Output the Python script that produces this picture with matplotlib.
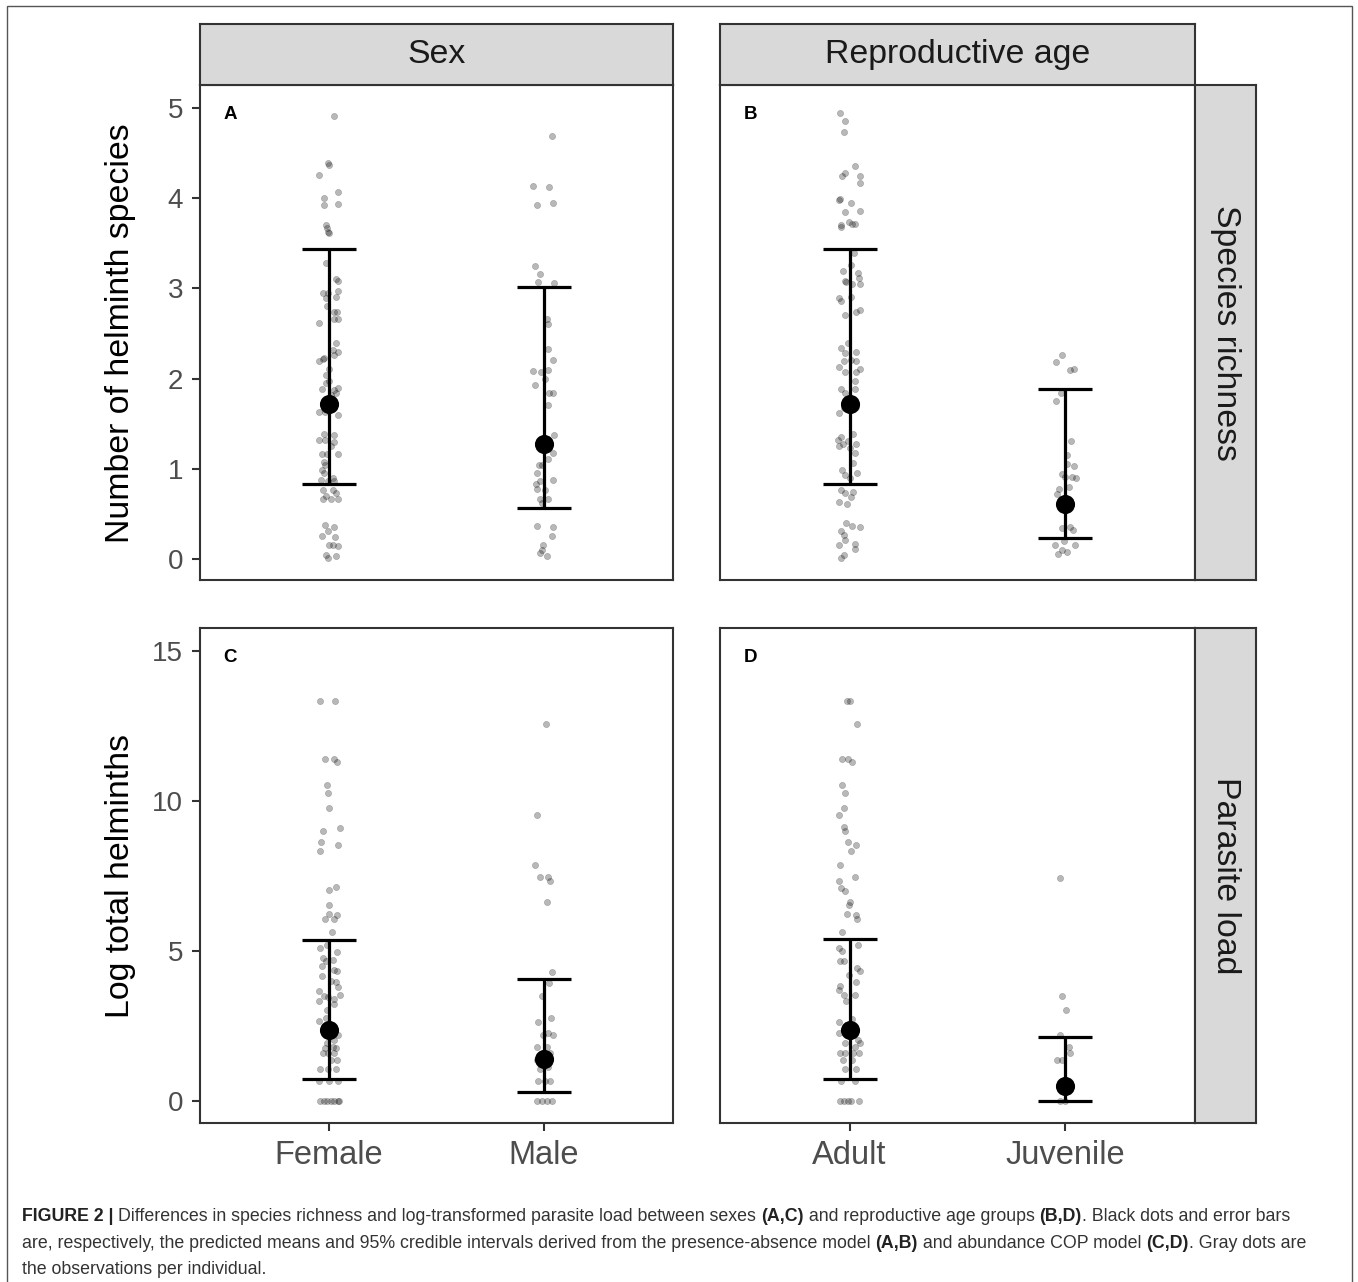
import matplotlib
matplotlib.use("Agg")
import matplotlib.pyplot as plt
from matplotlib.patches import Rectangle

plt.rcParams['font.family'] = ['Liberation Sans', 'DejaVu Sans']

# ---- data: (jitter dx, value) per individual ----
rich_female = [(0.022, 4.91), (-0.006, 4.39), (0.002, 4.37), (-0.045, 4.26), (0.040, 4.07), (-0.025, 4.00),
               (-0.025, 3.92), (0.040, 3.94), (-0.016, 3.70), (-0.009, 3.67), (-0.003, 3.63), (0.000, 3.61),
               (-0.014, 3.28), (0.033, 3.10), (0.043, 3.08), (-0.029, 2.95), (-0.006, 2.95), (0.040, 2.97),
               (-0.014, 2.89), (0.033, 2.90), (-0.009, 2.80), (0.025, 2.74), (0.037, 2.74), (-0.048, 2.62),
               (0.022, 2.66), (0.043, 2.66), (0.033, 2.40), (0.017, 2.32), (0.040, 2.30), (0.022, 2.26),
               (-0.022, 2.23), (-0.029, 2.22), (-0.045, 2.19), (0.002, 2.11), (-0.014, 2.04), (0.002, 1.97),
               (-0.014, 1.95), (-0.034, 1.88), (0.040, 1.90), (0.025, 1.87), (0.033, 1.84), (0.009, 1.82),
               (-0.045, 1.63), (-0.019, 1.63), (0.040, 1.60), (-0.025, 1.39), (0.022, 1.38), (-0.045, 1.32),
               (-0.019, 1.32), (0.025, 1.30), (0.009, 1.25), (0.040, 1.16), (-0.033, 1.16), (-0.009, 1.16),
               (-0.022, 1.08), (-0.019, 1.04), (-0.034, 0.99), (-0.025, 0.95), (0.017, 0.90), (-0.037, 0.88),
               (-0.006, 0.86), (0.025, 0.86), (-0.029, 0.77), (0.017, 0.77), (0.033, 0.73), (-0.014, 0.70),
               (0.040, 0.67), (-0.029, 0.66), (0.009, 0.66), (-0.019, 0.38), (0.025, 0.36), (-0.006, 0.31),
               (-0.034, 0.25), (0.028, 0.24), (0.002, 0.16), (0.017, 0.16), (0.040, 0.14), (-0.014, 0.04),
               (-0.003, 0.01), (0.033, 0.03)]
rich_male = [(0.036, 4.69), (-0.050, 4.13), (0.025, 4.12), (-0.031, 3.92), (0.040, 3.95), (-0.042, 3.25),
             (-0.019, 3.16), (-0.026, 3.07), (0.047, 3.06), (0.016, 2.66), (0.020, 2.61), (0.020, 2.33),
             (0.043, 2.21), (-0.050, 2.08), (-0.016, 2.07), (0.020, 2.10), (0.005, 2.00), (-0.042, 1.93),
             (0.040, 1.84), (0.025, 1.84), (0.020, 1.71), (0.048, 1.38), (0.012, 1.30), (0.043, 1.17),
             (0.020, 1.11), (-0.022, 1.04), (-0.031, 0.95), (-0.011, 1.04), (-0.019, 0.87), (0.040, 0.88),
             (-0.037, 0.83), (-0.034, 0.78), (0.005, 0.77), (-0.019, 0.67), (0.020, 0.67), (-0.011, 0.62),
             (-0.031, 0.37), (0.043, 0.36), (0.036, 0.26), (-0.003, 0.16), (-0.011, 0.10), (-0.019, 0.07),
             (0.012, 0.03)]
rich_adult = [(-0.043, 4.94), (-0.019, 4.86), (-0.026, 4.73), (0.023, 4.36), (-0.023, 4.28), (-0.034, 4.25),
              (0.047, 4.25), (0.047, 4.17), (-0.043, 3.99), (-0.050, 3.98), (0.005, 3.95), (-0.020, 3.85),
              (0.047, 3.86), (-0.039, 3.70), (-0.003, 3.74), (0.012, 3.71), (0.023, 3.71), (-0.039, 3.68),
              (0.020, 3.39), (0.008, 3.26), (-0.031, 3.19), (0.039, 3.17), (-0.023, 3.08), (-0.016, 3.07),
              (0.043, 3.12), (0.012, 3.05), (0.047, 3.05), (-0.047, 2.89), (-0.039, 2.86), (0.005, 2.90),
              (-0.023, 2.71), (0.028, 2.74), (0.050, 2.76), (-0.008, 2.39), (-0.039, 2.34), (-0.023, 2.28),
              (0.031, 2.29), (-0.028, 2.20), (0.008, 2.21), (0.031, 2.20), (-0.050, 2.13), (-0.023, 2.07),
              (0.047, 2.11), (0.023, 1.97), (0.031, 2.07), (-0.039, 1.88), (-0.019, 1.84), (0.023, 1.88),
              (-0.047, 1.62), (-0.028, 1.67), (0.031, 1.69), (-0.039, 1.35), (0.016, 1.39), (-0.054, 1.32),
              (-0.031, 1.28), (0.028, 1.28), (0.000, 1.23), (0.023, 1.17), (-0.047, 1.25), (-0.008, 1.31),
              (0.016, 1.06), (-0.034, 0.99), (0.034, 0.95), (-0.023, 0.93), (0.000, 0.90), (-0.039, 0.77),
              (-0.019, 0.73), (0.016, 0.74), (0.008, 0.69), (-0.047, 0.63), (-0.012, 0.61), (-0.016, 0.40),
              (0.012, 0.37), (0.050, 0.36), (-0.039, 0.31), (-0.028, 0.27), (-0.019, 0.21), (-0.047, 0.15),
              (0.023, 0.17), (0.023, 0.11), (-0.028, 0.04), (-0.039, 0.01)]
rich_juvenile = [(-0.016, 2.26), (-0.042, 2.18), (0.023, 2.10), (0.039, 2.11), (-0.020, 1.84), (-0.042, 1.75),
                 (0.026, 1.31), (0.008, 1.15), (0.039, 1.03), (0.008, 1.05), (-0.016, 0.94), (0.000, 0.91),
                 (0.031, 0.91), (0.051, 0.90), (0.016, 0.80), (-0.031, 0.78), (-0.039, 0.72), (-0.016, 0.34),
                 (0.023, 0.35), (0.036, 0.32), (-0.008, 0.20), (-0.047, 0.16), (0.042, 0.15), (-0.016, 0.10),
                 (0.008, 0.08), (-0.036, 0.05)]

load_female = [(-0.040, 13.32), (0.029, 13.34), (-0.019, 11.40), (0.022, 11.40), (0.037, 11.30), (-0.009, 10.52),
               (-0.006, 10.28), (-0.002, 9.77), (-0.029, 8.99), (0.051, 9.10), (-0.037, 8.62), (-0.043, 8.34),
               (0.040, 8.54), (0.002, 7.04), (0.033, 7.14), (-0.002, 6.52), (-0.002, 6.24), (0.037, 6.21),
               (-0.017, 6.08), (0.025, 6.08), (0.012, 5.62), (-0.040, 5.10), (-0.009, 5.21), (0.037, 4.97),
               (-0.029, 4.77), (0.017, 4.69), (-0.014, 4.66), (-0.034, 4.49), (0.025, 4.38), (0.037, 4.32),
               (-0.034, 4.16), (0.009, 3.99), (0.033, 3.97), (-0.045, 3.68), (0.040, 3.79), (-0.025, 3.49),
               (-0.006, 3.46), (0.022, 3.41), (0.051, 3.54), (-0.045, 3.32), (0.025, 3.24), (-0.009, 3.04),
               (-0.045, 2.66), (-0.014, 2.77), (0.040, 2.19), (0.025, 2.04), (-0.009, 1.93), (0.017, 1.79),
               (-0.019, 1.77), (0.033, 1.77), (-0.029, 1.60), (-0.006, 1.60), (0.022, 1.60), (0.009, 1.38),
               (0.037, 1.38), (-0.040, 1.08), (-0.006, 1.08), (0.033, 1.08), (-0.045, 0.68), (0.002, 0.68),
               (0.040, 0.68), (-0.040, 0.0), (-0.025, 0.0), (-0.009, 0.0), (0.009, 0.0), (0.025, 0.0),
               (0.040, 0.0), (0.048, 0.0)]
load_male = [(0.008, 12.57), (-0.034, 9.52), (-0.042, 7.86), (-0.019, 7.46), (0.020, 7.46), (0.028, 7.34),
             (0.012, 6.63), (0.036, 4.30), (0.025, 3.93), (-0.011, 3.49), (0.033, 2.77), (-0.026, 2.63),
             (0.020, 2.27), (0.040, 2.19), (-0.003, 2.19), (-0.031, 1.79), (0.012, 1.79), (-0.011, 1.60),
             (0.028, 1.60), (-0.034, 1.38), (0.005, 1.32), (-0.019, 1.08), (0.020, 1.12), (-0.026, 0.68),
             (0.005, 0.68), (0.028, 0.68), (-0.034, 0.0), (-0.011, 0.0), (0.012, 0.0), (0.036, 0.0)]
load_adult = [(-0.011, 13.32), (0.000, 13.34), (0.036, 12.57), (-0.034, 11.40), (-0.008, 11.40), (0.012, 11.30),
              (-0.034, 10.52), (-0.019, 10.28), (-0.025, 9.77), (-0.050, 9.52), (-0.026, 9.12), (-0.023, 8.99),
              (-0.005, 8.62), (0.028, 8.52), (0.005, 8.34), (-0.042, 7.86), (0.023, 7.46), (-0.050, 7.32),
              (-0.039, 7.10), (-0.023, 7.01), (0.000, 6.63), (-0.003, 6.52), (-0.011, 6.24), (0.028, 6.19),
              (0.034, 6.08), (-0.034, 5.62), (0.039, 5.19), (-0.050, 5.10), (-0.034, 4.99), (-0.028, 4.68),
              (-0.043, 4.66), (0.034, 4.43), (0.047, 4.32), (-0.003, 4.19), (0.028, 3.97), (-0.042, 3.82),
              (-0.047, 3.71), (-0.028, 3.54), (0.023, 3.52), (-0.016, 3.32), (-0.047, 2.63), (0.012, 2.74),
              (-0.050, 2.27), (0.039, 2.04), (-0.019, 1.93), (0.023, 1.79), (0.047, 1.93), (-0.043, 1.60),
              (-0.023, 1.60), (0.016, 1.60), (0.043, 1.60), (-0.031, 1.38), (0.012, 1.38), (-0.023, 1.08),
              (0.031, 1.08), (-0.039, 0.68), (0.023, 0.68), (-0.043, 0.0), (-0.028, 0.0), (-0.008, 0.0),
              (0.008, 0.0), (0.043, 0.0)]
load_juvenile = [(-0.023, 7.43), (-0.016, 3.49), (0.003, 3.04), (-0.026, 2.19), (0.016, 1.79), (0.020, 1.60),
                 (-0.039, 1.38), (-0.016, 1.38), (-0.023, 0.0), (0.000, 0.0)]

# predicted means and 95% credible intervals
sex_groups = ["Female", "Male"]
age_groups = ["Adult", "Juvenile"]
rich_sex_mean, rich_sex_lo, rich_sex_hi = [1.72, 1.27], [0.83, 0.57], [3.44, 3.01]
rich_age_mean, rich_age_lo, rich_age_hi = [1.72, 0.61], [0.83, 0.23], [3.44, 1.88]
load_sex_mean, load_sex_lo, load_sex_hi = [2.36, 1.41], [0.72, 0.29], [5.36, 4.07]
load_age_mean, load_age_lo, load_age_hi = [2.36, 0.49], [0.74, 0.00], [5.41, 2.12]

W, H = 1358, 1282
fig = plt.figure(figsize=(W / 100, H / 100), dpi=100)

BORDER = "#333333"
STRIP = "#D9D9D9"


def px_axes(x0, y0, x1, y1):
    return fig.add_axes([x0 / W, 1 - y1 / H, (x1 - x0) / W, (y1 - y0) / H])


def panel(box, groups, obs, mean, lo, hi, ylim, yticks, letter, left, bottom):
    ax = px_axes(*box)
    for i, pts in enumerate(obs):
        xs = [i + 1 + p[0] for p in pts]
        ys = [p[1] for p in pts]
        ax.scatter(xs, ys, s=20, color="black", alpha=0.28, linewidths=0.4, edgecolors="black", zorder=2)
    xpos = [1, 2]
    ax.vlines(xpos, lo, hi, color="black", lw=2.3, zorder=3)
    for x, l, h in zip(xpos, lo, hi):
        ax.hlines([l, h], x - 0.125, x + 0.125, color="black", lw=2.3, zorder=3)
    ax.scatter(xpos, mean, s=190, color="black", zorder=4, linewidths=0)
    ax.set_xlim(0.4, 2.6)
    ax.set_ylim(*ylim)
    ax.set_xticks(xpos)
    ax.set_yticks(yticks)
    ax.tick_params(colors=BORDER, width=1.5, length=6, labelcolor="#4D4D4D")
    ax.tick_params(axis="y", labelsize=20, pad=6)
    ax.tick_params(axis="x", labelsize=23.5, pad=6)
    if bottom:
        ax.set_xticklabels(groups)
    else:
        ax.tick_params(axis="x", length=0, labelbottom=False)
    if not left:
        ax.tick_params(axis="y", length=0, labelleft=False)
    for s in ax.spines.values():
        s.set_color(BORDER)
        s.set_linewidth(1.5)
    ax.text(0.05, 0.94, letter, transform=ax.transAxes, fontsize=13.5, fontweight="bold",
            ha="left", va="center")
    return ax


def strip(box, label, rot):
    ax = px_axes(*box)
    ax.set_facecolor(STRIP)
    ax.set_xticks([])
    ax.set_yticks([])
    for s in ax.spines.values():
        s.set_color(BORDER)
        s.set_linewidth(1.5)
    ax.text(0.5, 0.5, label, transform=ax.transAxes, rotation=rot, ha="center", va="center",
            fontsize=24.4, color="#1A1A1A")


ylim_rich = (-0.233, 5.255)
ylim_load = (-0.733, 15.767)

panel((200, 85, 673, 580), sex_groups, [rich_female, rich_male], rich_sex_mean, rich_sex_lo, rich_sex_hi,
      ylim_rich, [0, 1, 2, 3, 4, 5], "A", True, False)
panel((720, 85, 1195, 580), age_groups, [rich_adult, rich_juvenile], rich_age_mean, rich_age_lo, rich_age_hi,
      ylim_rich, [0, 1, 2, 3, 4, 5], "B", False, False)
panel((200, 628, 673, 1123), sex_groups, [load_female, load_male], load_sex_mean, load_sex_lo, load_sex_hi,
      ylim_load, [0, 5, 10, 15], "C", True, True)
panel((720, 628, 1195, 1123), age_groups, [load_adult, load_juvenile], load_age_mean, load_age_lo, load_age_hi,
      ylim_load, [0, 5, 10, 15], "D", False, True)

strip((200, 24, 673, 85), "Sex", 0)
strip((720, 24, 1195, 85), "Reproductive age", 0)
strip((1195, 85, 1256, 580), "Species richness", -90)
strip((1195, 628, 1256, 1123), "Parasite load", -90)

fig.text(120 / W, 1 - 333 / H, "Number of helminth species", rotation=90, ha="center", va="center",
         fontsize=24.4, color="black")
fig.text(120 / W, 1 - 876 / H, "Log total helminths", rotation=90, ha="center", va="center",
         fontsize=24.4, color="black")

# outer frame (open at the bottom edge of the crop)
fig.patches.append(Rectangle((7 / W, -0.02), (1352 - 7) / W, 1 - 6 / H + 0.02, transform=fig.transFigure,
                             fill=False, edgecolor="#555555", lw=1.0))

# caption with bold pieces
caption = [
    [("FIGURE 2 | ", True), ("Differences in species richness and log-transformed parasite load between sexes ", False),
     ("(A,C)", True), (" and reproductive age groups ", False), ("(B,D)", True), (". Black dots and error bars", False)],
    [("are, respectively, the predicted means and 95% credible intervals derived from the presence-absence model ", False),
     ("(A,B)", True), (" and abundance COP model ", False), ("(C,D)", True), (". Gray dots are", False)],
    [("the observations per individual.", False)],
]
cap_baseline = [1221, 1248, 1274]
renderer = fig.canvas.get_renderer()
for line, yp in zip(caption, cap_baseline):
    x = 22
    for txt, bold in line:
        t = fig.text(x / W, 1 - yp / H, txt, fontsize=12.75, fontweight="bold" if bold else "normal",
                     ha="left", va="baseline", color="#222222" if bold else "#333333")
        x += t.get_window_extent(renderer=renderer).width

fig.savefig("out.png", dpi=100)
